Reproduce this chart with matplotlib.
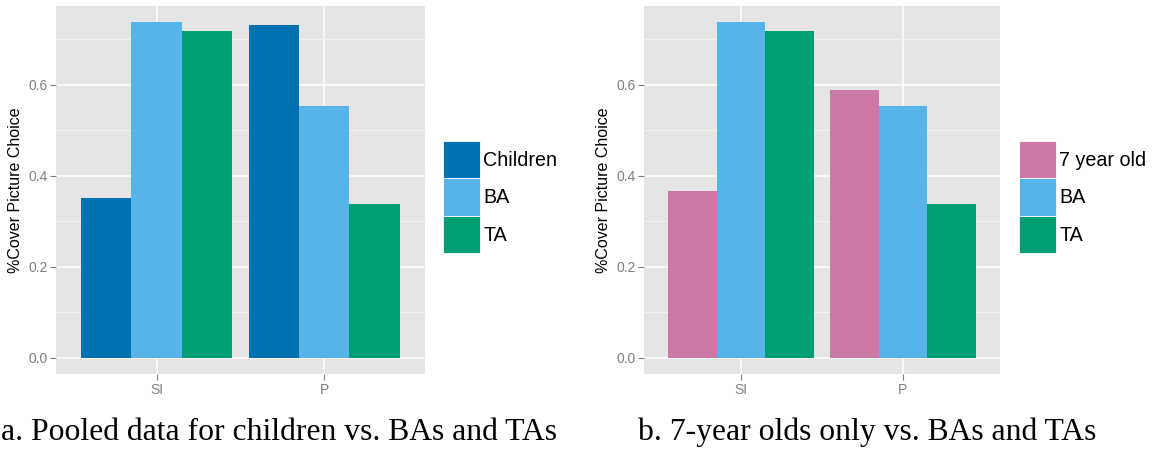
import numpy as np
import matplotlib
matplotlib.use("Agg")
import matplotlib.pyplot as plt

conditions = ["SI", "P"]

# panel a: pooled children
children = [0.350, 0.732]
ba = [0.737, 0.554]
ta = [0.719, 0.337]

# panel b: 7 year olds only
seven_yo = [0.366, 0.589]

col_children = "#0072B2"
col_ba = "#56B4E9"
col_ta = "#009E73"
col_seven = "#CC79A7"

plt.rcParams['font.family'] = ['Liberation Sans', 'DejaVu Sans']

fig = plt.figure(figsize=(11.56, 4.49), dpi=100)


def panel(rect, first_vals, first_label, first_col, legend_x):
    ax = fig.add_axes(rect)
    ax.set_facecolor("#E5E5E5")
    x = np.arange(1, len(conditions) + 1)
    w = 0.3
    series = [(first_vals, first_label, first_col), (ba, "BA", col_ba), (ta, "TA", col_ta)]
    for i, (vals, lab, col) in enumerate(series):
        ax.bar(x + (i - 1) * w, vals, width=w, color=col, label=lab, zorder=3, linewidth=0)
    ymax = max(max(first_vals), max(ba), max(ta))
    pad = ymax * 0.05
    ax.set_ylim(-pad, ymax + pad)
    ax.set_xlim(0.4, 2.6)
    ax.set_yticks([0.0, 0.2, 0.4, 0.6])
    ax.set_yticklabels(["0.0", "0.2", "0.4", "0.6"])
    ax.set_yticks([0.1, 0.3, 0.5, 0.7], minor=True)
    ax.set_xticks(x)
    ax.set_xticklabels(conditions)
    ax.grid(True, which="major", color="white", linewidth=1.1, zorder=1)
    ax.grid(True, which="minor", axis="y", color="#F2F2F2", linewidth=0.9, zorder=1)
    for s in ax.spines.values():
        s.set_visible(False)
    ax.tick_params(axis="both", which="major", colors="#7F7F7F", labelsize=10,
                   length=4, width=0.8, pad=2)
    ax.tick_params(axis="y", which="minor", length=0)
    ax.set_ylabel("%Cover Picture Choice", fontsize=11.5, color="black", labelpad=4)
    # handleheight chosen so each key is ~37px tall with no gaps
    leg = fig.legend(*ax.get_legend_handles_labels(), loc="center left",
                     bbox_to_anchor=(legend_x, 0.561), frameon=False, fontsize=14.2,
                     handlelength=1.9, handleheight=2.55, labelspacing=0,
                     handletextpad=0.15, borderpad=0, borderaxespad=0)
    for h in leg.legend_handles:
        h.set_edgecolor("white")
        h.set_linewidth(0.6)
    return ax


ax1 = panel([0.0484, 0.1664, 0.3192, 0.8209], children, "Children", col_children, 443 / 1156)
ax2 = panel([0.5571, 0.1664, 0.3080, 0.8209], seven_yo, "7 year old", col_seven, 1019 / 1156)

fig.text(279 / 1156, 1 - 440 / 449, "a. Pooled data for children vs. BAs and TAs",
         family=["Liberation Serif", "DejaVu Serif"], fontsize=22.8, ha="center", va="baseline")
fig.text(867.5 / 1156, 1 - 440 / 449, "b. 7-year olds only vs. BAs and TAs",
         family=["Liberation Serif", "DejaVu Serif"], fontsize=22.8, ha="center", va="baseline")

fig.savefig("out.png", dpi=100, facecolor="white")
